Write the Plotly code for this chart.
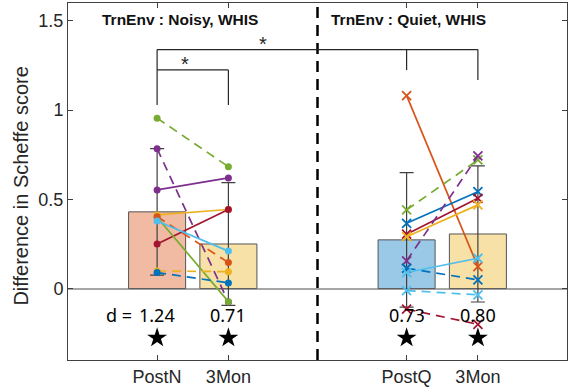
import plotly.graph_objects as go

# ---------------- data ----------------
cond_labels = ['PostN', '3Mon', 'PostQ', '3Mon']
cond_x = [1, 2, 4.5, 5.5]
bar_means = [0.43, 0.25, 0.273, 0.306]
bar_err = [0.354, 0.344, 0.377, 0.381]
bar_colors = ['rgb(240,186,163)', 'rgb(247,225,166)', 'rgb(153,201,230)', 'rgb(247,225,166)']

effect_sizes = ['1.24', '0.71', '0.73', '0.80']
divider_x = 3.25

# subject lines, Noisy group (circles): (color, dash, post, 3mon)
noisy_subjects = [
    ('#77AC30', 'dash', 0.955, 0.683),
    ('#7E2F8E', 'dash', 0.784, -0.075),
    ('#7E2F8E', 'solid', 0.553, 0.620),
    ('#EDB120', 'solid', 0.413, 0.443),
    ('#A2142F', 'solid', 0.250, 0.443),
    ('#77AC30', 'solid', 0.400, -0.073),
    ('#D95319', 'dash', 0.403, 0.146),
    ('#4DBEEE', 'solid', 0.379, 0.210),
    ('#EDB120', 'dash', 0.099, 0.095),
    ('#0072BD', 'dash', 0.090, 0.032),
]
# subject lines, Quiet group (x markers)
quiet_subjects = [
    ('#D95319', 'solid', 1.081, 0.123),
    ('#77AC30', 'dash', 0.441, 0.721),
    ('#0072BD', 'solid', 0.366, 0.543),
    ('#A2142F', 'solid', 0.305, 0.506),
    ('#EDB120', 'solid', 0.291, 0.469),
    ('#7E2F8E', 'dash', 0.155, 0.743),
    ('#0072BD', 'dash', 0.114, 0.049),
    ('#4DBEEE', 'solid', 0.090, 0.170),
    ('#4DBEEE', 'dash', -0.011, -0.035),
    ('#A2142F', 'dash', -0.115, -0.200),
]

group_titles = ['TrnEnv : Noisy, WHIS', 'TrnEnv : Quiet, WHIS']
group_title_x = [1.32, 4.53]
group_title_y = 1.508

# significance brackets
br_top_y = 1.339
br_low_y = 1.225
br_foot_y = 1.029
br_q1_foot = 1.225
br_q2_foot = 1.169
star_sig = [(2.48, 1.372), (1.39, 1.259)]

d_text_y = -0.15
star_y = -0.276

# ---------------- figure ----------------
fig = go.Figure()

fig.add_trace(go.Bar(
    x=cond_x, y=bar_means, width=0.8,
    marker=dict(color=bar_colors, line=dict(color='#555555', width=1)),
    error_y=dict(type='data', array=bar_err, visible=True,
                 color='#404040', thickness=1.2, width=7),
    hoverinfo='skip'))

DASH = '9px,6px'
for col, ds, a, b in noisy_subjects:
    fig.add_trace(go.Scatter(
        x=cond_x[0:2], y=[a, b], mode='lines+markers',
        line=dict(color=col, width=1.7, dash=DASH if ds == 'dash' else 'solid'),
        marker=dict(symbol='circle', size=7, color=col)))

for col, ds, a, b in quiet_subjects:
    fig.add_trace(go.Scatter(
        x=cond_x[2:4], y=[a, b], mode='lines+markers',
        line=dict(color=col, width=1.7, dash=DASH if ds == 'dash' else 'solid'),
        marker=dict(symbol='x-thin', size=9, color=col,
                    line=dict(color=col, width=1.8))))

fig.add_trace(go.Scatter(
    x=cond_x, y=[star_y] * len(cond_x), mode='markers',
    marker=dict(symbol='star', size=15, color='black'),
    hoverinfo='skip'))

shapes = []
# divider
shapes.append(dict(type='line', xref='x', yref='paper', x0=divider_x, x1=divider_x,
                   y0=0, y1=1, line=dict(color='black', width=2.5, dash='11px,7px')))
bl = dict(color='#262626', width=1.2)
# top bracket
shapes.append(dict(type='line', x0=cond_x[0], x1=cond_x[3], y0=br_top_y, y1=br_top_y, line=bl))
shapes.append(dict(type='line', x0=cond_x[0], x1=cond_x[0], y0=br_top_y, y1=br_foot_y, line=bl))
shapes.append(dict(type='line', x0=cond_x[2], x1=cond_x[2], y0=br_top_y, y1=br_q1_foot, line=bl))
shapes.append(dict(type='line', x0=cond_x[3], x1=cond_x[3], y0=br_top_y, y1=br_q2_foot, line=bl))
# lower bracket
shapes.append(dict(type='line', x0=cond_x[0], x1=cond_x[1], y0=br_low_y, y1=br_low_y, line=bl))
shapes.append(dict(type='line', x0=cond_x[1], x1=cond_x[1], y0=br_low_y, y1=br_foot_y, line=bl))

annotations = []
for t, gx in zip(group_titles, group_title_x):
    annotations.append(dict(x=gx, y=group_title_y, text='<b>' + t + '</b>', showarrow=False,
                            font=dict(family='Liberation Sans', size=15.5, color='#111111'),
                            xanchor='center', yanchor='middle'))
for sx, sy in star_sig:
    annotations.append(dict(x=sx, y=sy, text='*', showarrow=False,
                            font=dict(family='Liberation Sans', size=20, color='#262626'),
                            xanchor='center', yanchor='middle'))
for xv, t in zip(cond_x, effect_sizes):
    annotations.append(dict(x=xv, y=d_text_y, text=t, showarrow=False,
                            font=dict(family='Noto Sans', size=18, color='black'),
                            xanchor='center', yanchor='middle'))
annotations.append(dict(x=cond_x[0], y=d_text_y, text='d =', showarrow=False, xshift=-23,
                        font=dict(family='Noto Sans', size=18, color='black'),
                        xanchor='right', yanchor='middle'))
annotations.append(dict(xref='paper', yref='paper', x=-0.094, y=0.486,
                        text='Difference in Scheffe score', textangle=-90, showarrow=False,
                        font=dict(family='Liberation Sans', size=20, color='#262626'),
                        xanchor='center', yanchor='middle'))

fig.update_layout(
    width=568, height=392,
    margin=dict(l=68, r=1, t=3, b=32),
    plot_bgcolor='white', paper_bgcolor='white',
    showlegend=False, shapes=shapes, annotations=annotations,
    font=dict(family='Liberation Sans', color='#262626'))

fig.update_xaxes(range=[-0.25, 6.75], tickvals=cond_x, ticktext=cond_labels,
                 ticks='inside', ticklen=5, tickcolor='#404040', mirror='ticks',
                 showline=True, linecolor='#404040', linewidth=1,
                 showgrid=False, zeroline=False,
                 tickfont=dict(family='Liberation Sans', size=18, color='#262626'))
fig.update_yaxes(range=[-0.4, 1.6], tickvals=[0, 0.5, 1, 1.5], ticktext=['0', '0.5', '1', '1.5'],
                 ticks='inside', ticklen=5, tickcolor='#404040', mirror='ticks',
                 showline=True, linecolor='#404040', linewidth=1,
                 showgrid=False, zeroline=True, zerolinecolor='#a6a6a6', zerolinewidth=1.5,
                 tickfont=dict(family='Liberation Sans', size=18, color='#262626'))

fig.write_html('out.html', config={'displayModeBar': False},
               post_script="document.body.style.margin='0';document.body.style.overflow='hidden';")
